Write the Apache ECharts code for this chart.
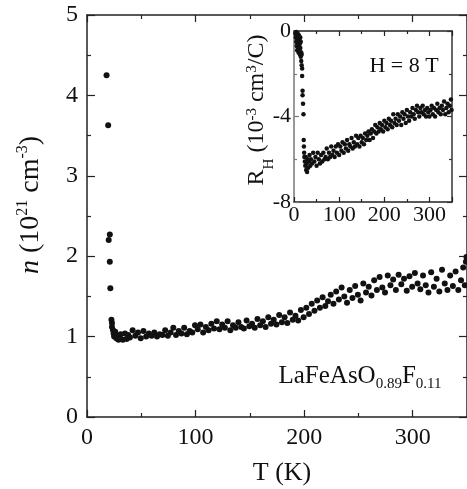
<!DOCTYPE html>
<html>
<head>
<meta charset="utf-8">
<script src="https://cdn.jsdelivr.net/npm/echarts@6/dist/echarts.min.js"></script>
<style>html,body{margin:0;padding:0;background:#fff;}#c{width:467px;height:489px;}</style>
</head>
<body>
<div id="c"></div>
<script>
// Main panel: carrier density n (10^21 cm^-3) vs T (K)
var mainT = [
18,19.5,20,21,21,21.5,22.5,23,23,24,
24.5,25,26,27,28,29,30,31,28.5,33,
35,36.5,38,39.5,42,44.5,47,49.5,52,54.5,
57,59.5,62,64.5,67,69.5,72,74.5,77,79.5,
82,84.5,87,89.5,92,94.5,97,99.5,102,104.5,
107,109.5,112,114.5,117,119.5,122,124.5,127,129.5,
132,134.5,137,139.5,142,144.5,147,149.5,152,154.5,
157,159.5,162,164.5,167,169.5,172,174.5,177,179.5,
182,184.5,187,189.5,192,194.5,197,199.5,202,204.5,
207,209.5,212,214.5,217,219.5,222,224.5,227,229.5,
232,234.5,237,239.5,242,244.5,247,249.5,252,254.5,
257,259.5,262,264.5,267,269.5,272,274.5,277,279.5,
282,284.5,287,289.5,292,294.5,297,299.5,302,304.5,
307,309.5,312,314.5,317,319.5,322,324.5,327,329.5,
332,334.5,337,339.5,342,344.5,346.5,348,349,349.5
];
var mainN = [
4.25,3.63,2.20,2.27,1.93,1.60,1.21,1.17,1.12,1.08,
1.04,1.00,1.06,0.98,1.01,0.96,0.99,1.03,0.97,0.96,
1.04,0.97,1.02,0.99,1.08,1.01,1.05,0.98,1.07,1.00,
1.04,1.01,1.05,1.00,1.03,1.02,1.08,1.01,1.05,1.11,
1.02,1.07,1.04,1.11,1.03,1.07,1.05,1.14,1.09,1.15,
1.05,1.12,1.08,1.16,1.10,1.19,1.09,1.15,1.11,1.19,
1.08,1.14,1.11,1.18,1.12,1.10,1.20,1.13,1.16,1.11,
1.22,1.14,1.19,1.12,1.24,1.16,1.21,1.15,1.27,1.18,
1.24,1.17,1.30,1.21,1.26,1.20,1.33,1.24,1.36,1.28,
1.41,1.32,1.45,1.36,1.49,1.38,1.44,1.52,1.41,1.56,
1.46,1.61,1.50,1.42,1.58,1.48,1.63,1.52,1.45,1.66,
1.55,1.62,1.51,1.70,1.58,1.74,1.61,1.55,1.76,1.64,
1.71,1.58,1.77,1.65,1.72,1.57,1.75,1.62,1.79,1.66,
1.59,1.76,1.64,1.55,1.80,1.62,1.72,1.56,1.83,1.66,
1.58,1.76,1.63,1.81,1.58,1.70,1.86,1.64,1.93,1.99
];
// Inset: Hall coefficient R_H (10^-3 cm^3/C) vs T (K), H = 8 T
var insetT = [
3,4,5,5,6,6,7,7,8,8,
9,9,10,10,11,11,12,12,13,13,
14,14,15,15,16,16,17,17,18,18,
19,19,20,21,21.5,22,22.5,23,24,25,
26,27,28,29,30,31.5,33,34.5,36,37.5,
40,42.5,45,47.5,50,52.5,55,57.5,60,62.5,
65,67.5,70,72.5,75,77.5,80,82.5,85,87.5,
90,92.5,95,97.5,100,102.5,105,107.5,110,112.5,
115,117.5,120,122.5,125,127.5,130,132.5,135,137.5,
140,142.5,145,147.5,150,152.5,155,157.5,160,162.5,
165,167.5,170,172.5,175,177.5,180,182.5,185,187.5,
190,192.5,195,197.5,200,202.5,205,207.5,210,212.5,
215,217.5,220,222.5,225,227.5,230,232.5,235,237.5,
240,242.5,245,247.5,250,252.5,255,257.5,260,262.5,
265,267.5,270,272.5,275,277.5,280,282.5,285,287.5,
290,292.5,295,297.5,300,302.5,305,307.5,310,312.5,
315,317.5,320,322.5,325,327.5,330,332.5,335,337.5,
340,342.5,345,347.5,349
];
var insetR = [
-0.1,-0.3,-0.05,-0.5,-0.2,-0.7,-0.4,-0.9,-0.1,-0.6,
-0.3,-0.8,-0.5,-1.0,-0.2,-0.7,-0.4,-0.9,-0.6,-1.1,
-0.3,-0.8,-1.2,-0.5,-1.0,-1.4,-1.6,-1.1,-1.75,-2.1,
-2.8,-3.0,-3.4,-3.9,-5.1,-5.4,-5.7,-5.9,-6.1,-6.3,
-5.9,-6.5,-6.2,-6.6,-6.0,-6.4,-6.1,-5.8,-6.3,-6.0,
-6.2,-5.7,-6.1,-5.9,-6.3,-5.7,-6.0,-6.2,-5.8,-6.1,
-5.7,-6.0,-5.9,-5.5,-6.0,-5.7,-5.9,-5.4,-5.8,-5.6,
-5.9,-5.4,-5.7,-5.3,-5.8,-5.4,-5.6,-5.2,-5.7,-5.3,
-5.5,-5.1,-5.6,-5.3,-5.4,-5.0,-5.5,-5.2,-5.4,-4.9,
-5.3,-5.0,-5.4,-4.9,-5.2,-5.0,-5.3,-4.8,-5.1,-4.9,
-4.7,-5.1,-4.8,-4.6,-5.0,-4.7,-4.4,-4.8,-4.5,-4.7,
-4.3,-4.6,-4.4,-4.7,-4.2,-4.5,-4.3,-4.6,-4.1,-4.4,
-4.2,-4.5,-3.9,-4.3,-4.1,-4.4,-3.9,-4.2,-4.0,-4.4,
-3.8,-4.1,-3.9,-4.3,-3.7,-4.0,-4.2,-3.8,-4.0,-3.6,
-3.9,-4.1,-3.7,-3.5,-3.8,-4.0,-3.6,-3.8,-3.5,-3.9,
-3.7,-4.0,-3.6,-3.8,-4.0,-3.7,-3.5,-3.9,-3.6,-4.0,
-3.7,-3.4,-3.8,-3.6,-3.9,-3.5,-3.7,-3.3,-3.9,-3.6,
-3.4,-3.8,-3.5,-3.2,-3.7
];
var mainXTicks = [0, 350, 100];
var mainYTicks = [0, 5, 1];
var insetXTicks = [0, 350, 100];
var insetYTicks = [-8, 0, 4];

function zip(a, b) {
  var n = Math.min(a.length, b.length), out = [];
  for (var i = 0; i < n; i++) out.push([a[i], b[i]]);
  return out;
}

var SERIF = 'Liberation Serif';
var INK = '#111';

function axisX(grid, pos, showLabel, lineColor, fs, margin, tl, ml, ticks) {
  return {
    type: 'value', gridIndex: grid, position: pos,
    min: ticks[0], max: ticks[1], interval: ticks[2],
    axisLine: {show: true, onZero: false, lineStyle: {color: lineColor, width: 1.5}},
    axisTick: {show: true, inside: true, length: tl, lineStyle: {color: lineColor, width: 1.2}},
    minorTick: {show: true, splitNumber: 2, length: ml, lineStyle: {color: lineColor, width: 1.2}},
    splitLine: {show: false}, minorSplitLine: {show: false},
    axisLabel: {show: showLabel, fontFamily: SERIF, fontSize: fs, color: INK, margin: margin, showMaxLabel: false}
  };
}

function axisY(grid, pos, showLabel, lineColor, fs, margin, ticks, tl, ml) {
  return {
    type: 'value', gridIndex: grid, position: pos, min: ticks[0], max: ticks[1], interval: ticks[2],
    axisLine: {show: true, onZero: false, lineStyle: {color: lineColor, width: 1.5}},
    axisTick: {show: true, inside: true, length: tl, lineStyle: {color: lineColor, width: 1.2}},
    minorTick: {show: true, splitNumber: 2, length: ml, lineStyle: {color: lineColor, width: 1.2}},
    splitLine: {show: false}, minorSplitLine: {show: false},
    axisLabel: {show: showLabel, fontFamily: SERIF, fontSize: fs, color: INK, margin: margin}
  };
}

var chart = echarts.init(document.getElementById('c'), null, {renderer: 'canvas'});

var option = {
  animation: false,
  backgroundColor: '#fff',
  grid: [
    {left: 87, top: 15, width: 381, height: 402, containLabel: false},
    {left: 294, top: 31, width: 158, height: 171, containLabel: false, show: true, backgroundColor: '#fff', borderWidth: 0}
  ],
  xAxis: [
    axisX(0, 'bottom', true, '#222', 24, 9, 7, 4, mainXTicks),
    axisX(0, 'top', false, '#222', 24, 9, 7, 4, mainXTicks),
    axisX(1, 'bottom', true, '#222', 22, 2, 5, 3, insetXTicks),
    axisX(1, 'top', false, '#222', 22, 2, 5, 3, insetXTicks)
  ],
  yAxis: [
    axisY(0, 'left', true, '#222', 24, 9, mainYTicks, 8, 4),
    axisY(0, 'right', false, '#222', 24, 9, mainYTicks, 8, 4),
    axisY(1, 'left', true, '#777', 22, 3, insetYTicks, 5, 3),
    axisY(1, 'right', false, '#333', 22, 3, insetYTicks, 5, 3)
  ],
  series: [
    {type: 'scatter', xAxisIndex: 0, yAxisIndex: 0, data: zip(mainT, mainN), symbol: 'circle', symbolSize: 6,
     itemStyle: {color: INK, opacity: 1}, silent: true},
    {type: 'scatter', xAxisIndex: 2, yAxisIndex: 2, data: zip(insetT, insetR), symbol: 'circle', symbolSize: 4.5,
     itemStyle: {color: INK, opacity: 1}, silent: true}
  ],
  graphic: [
    {type: 'text', x: 30, y: 205, rotation: Math.PI / 2, silent: true,
     style: {text: '{i|n}{m| (10}{s|21}{m| cm}{s|-3}{m|)}', fill: INK, align: 'center', verticalAlign: 'middle',
       rich: {
         i: {fontFamily: SERIF, fontSize: 28, fontStyle: 'italic', lineHeight: 30, verticalAlign: 'bottom', fill: INK},
         m: {fontFamily: SERIF, fontSize: 28, lineHeight: 30, verticalAlign: 'bottom', fill: INK},
         s: {fontFamily: SERIF, fontSize: 16, lineHeight: 16, verticalAlign: 'top', fill: INK}
       }}},
    {type: 'text', x: 282, y: 473, silent: true,
     style: {text: 'T (K)', fontFamily: SERIF, fontSize: 26, fill: INK, align: 'center', verticalAlign: 'middle'}},
    {type: 'text', x: 258, y: 110, rotation: Math.PI / 2, silent: true,
     style: {text: '{m|R}{b|H}{m| (10}{s|-3}{m| cm}{s|3}{m|/C)}', fill: INK, align: 'center', verticalAlign: 'middle',
       rich: {
         m: {fontFamily: SERIF, fontSize: 24, lineHeight: 26, verticalAlign: 'top', fill: INK},
         s: {fontFamily: SERIF, fontSize: 15, lineHeight: 15, verticalAlign: 'top', fill: INK},
         b: {fontFamily: SERIF, fontSize: 15, lineHeight: 15, verticalAlign: 'top', padding: [17, 0, 0, 0], fill: INK}
       }}},
    {type: 'text', x: 404, y: 66, silent: true,
     style: {text: 'H = 8 T', fontFamily: SERIF, fontSize: 22, fill: INK, align: 'center', verticalAlign: 'middle'}},
    {type: 'text', x: 360, y: 378, silent: true,
     style: {text: '{m|LaFeAsO}{b|0.89}{m|F}{b|0.11}', fill: INK, align: 'center', verticalAlign: 'middle',
       rich: {
         m: {fontFamily: SERIF, fontSize: 25, lineHeight: 28, verticalAlign: 'top', fill: INK},
         b: {fontFamily: SERIF, fontSize: 15, lineHeight: 15, verticalAlign: 'top', padding: [13, 0, 0, 0], fill: INK}
       }}}
  ]
};
chart.setOption(option);
</script>
</body>
</html>
